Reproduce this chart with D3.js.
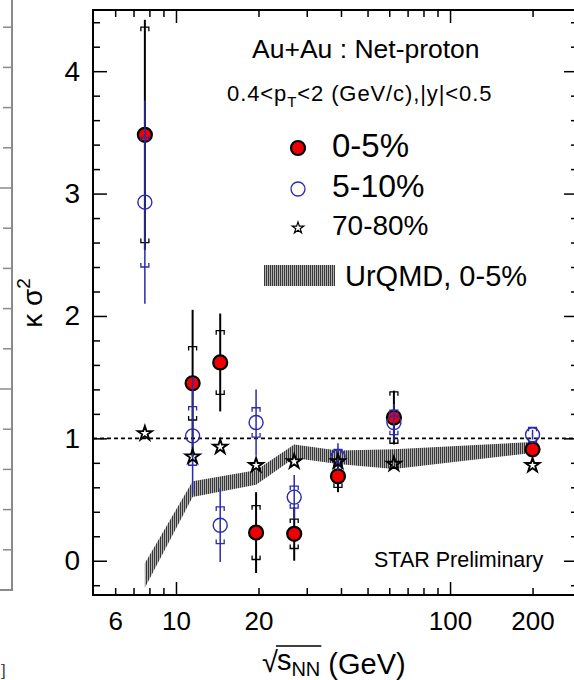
<!DOCTYPE html>
<html>
<head>
<meta charset="utf-8">
<script src="https://cdn.jsdelivr.net/npm/d3@7"></script>
<style>
  body { margin: 0; background: #fff; }
  svg { display: block; font-family: "Liberation Sans", Arial, Helvetica, sans-serif; }
</style>
</head>
<body>
<div id="chart"></div>
<script>
// Beam energies (GeV) and kappa*sigma^2 of net-proton
var energies = [7.7, 11.5, 14.5, 19.6, 27, 39, 62.4, 200];

// 0-5% central
var kappa05 = [3.48, 1.45, 1.62, 0.23, 0.22, 0.69, 1.17, 0.91];
var stat05  = [0.94, 0.60, 0.40, 0.33, 0.22, 0.13, 0.22, 0.04];
var sys05   = [0.88, 0.30, 0.26, 0.22, 0.12, 0.09, 0.21, 0.05];

// 5-10% central
var kappa510 = [2.93, 1.02, 0.29, 1.13, 0.52, 0.85, 1.13, 1.03];
var stat510  = [0.83, 0.48, 0.30, 0.27, 0.18, 0.11, 0.15, 0.04];
var sys510   = [0.53, 0.24, 0.15, 0.12, 0.09, 0.06, 0.10, 0.06];

// 70-80% peripheral
var kappa7080 = [1.04, 0.85, 0.93, 0.78, 0.81, 0.81, 0.79, 0.78];

// UrQMD 0-5% band
var urqmdEnergies = [7.7, 11.5, 19.6, 27, 39, 62.4, 200];
var urqmdLow  = [-0.22, 0.52, 0.62, 0.84, 0.79, 0.75, 0.88];
var urqmdHigh = [-0.02, 0.65, 0.74, 0.95, 0.90, 0.91, 0.97];

// Axis ticks
var xLabelTicks = [6, 10, 20, 100, 200];
var xMajorTicks = [10, 100];
var xMinorTicks = [6, 7, 8, 9, 20, 30, 40, 50, 60, 70, 80, 90, 200];
var yMajorTicks = [0, 1, 2, 3, 4];
var yMinorTicks = [-0.2, 0.2, 0.4, 0.6, 0.8, 1.2, 1.4, 1.6, 1.8, 2.2, 2.4, 2.6, 2.8,
                   3.2, 3.4, 3.6, 3.8, 4.2, 4.4];

var W = 574, H = 680;
var pad = {left: 93, right: 578, top: 10, bottom: 595};

var svg = d3.select("#chart").append("svg")
    .attr("width", W)
    .attr("height", H);

var blue = "#2a2ab0";

// Scales
var x = d3.scaleLog().domain([4.98, 293]).range([pad.left, pad.right]);
var y = d3.scaleLinear().domain([-0.28, 4.5]).range([pad.bottom, pad.top]);

// Hatched pattern for the UrQMD band
var defs = svg.append("defs");
var pat = defs.append("pattern")
    .attr("id", "hatch")
    .attr("patternUnits", "userSpaceOnUse")
    .attr("width", 2).attr("height", 4);
pat.append("rect").attr("width", 2).attr("height", 4).attr("fill", "#b0b0b0");
pat.append("rect").attr("width", 1).attr("height", 4).attr("fill", "#383838");

// Remnant of neighbouring panel on the left
var ghost = svg.append("g").attr("stroke", "#8a8a8a").attr("stroke-width", 2);
ghost.append("path").attr("fill", "none").attr("d", "M12,0V590H0");
d3.range(1, 15).forEach(function(i) {
    var ty = 590 - i * 40.2;
    if (ty < 0) return;
    ghost.append("line")
        .attr("x1", i % 5 === 0 ? 0 : 3).attr("x2", 12)
        .attr("y1", ty).attr("y2", ty)
        .attr("stroke-width", 1.5);
});
svg.append("text").attr("x", 1).attr("y", 676)
    .attr("font-size", 17).attr("fill", "#444").text("]");

var plot = svg.append("g");

// UrQMD band
var band = d3.area()
    .x(function(d, i) { return x(urqmdEnergies[i]); })
    .y0(function(d, i) { return y(urqmdLow[i]); })
    .y1(function(d, i) { return y(urqmdHigh[i]); });
plot.append("path")
    .attr("d", band(urqmdEnergies))
    .attr("fill", "url(#hatch)");

// Dashed unity line
plot.append("line")
    .attr("x1", pad.left).attr("x2", pad.right)
    .attr("y1", y(1)).attr("y2", y(1))
    .attr("stroke", "#000").attr("stroke-width", 1.6)
    .attr("stroke-dasharray", "4,3");

// Systematic bracket path
function sysPath(e, v, s) {
    var cx = x(e), yu = y(v + s), yl = y(v - s);
    return "M" + (cx - 4) + "," + (yu + 4) + "V" + yu + "H" + (cx + 4) + "V" + (yu + 4) +
           "M" + (cx - 4) + "," + (yl - 4) + "V" + yl + "H" + (cx + 4) + "V" + (yl - 4);
}

// Error bars for a series
function drawErrors(vals, stat, sys, color, sw) {
    var g = plot.append("g").attr("stroke", color).attr("fill", "none");
    g.selectAll("line.stat").data(energies).enter().append("line")
        .attr("class", "stat")
        .attr("x1", function(d) { return x(d); })
        .attr("x2", function(d) { return x(d); })
        .attr("y1", function(d, i) { return y(vals[i] + stat[i]); })
        .attr("y2", function(d, i) { return y(vals[i] - stat[i]); })
        .attr("stroke-width", sw);
    g.selectAll("path.sys").data(energies).enter().append("path")
        .attr("class", "sys")
        .attr("d", function(d, i) { return sysPath(d, vals[i], sys[i]); })
        .attr("stroke-width", 1.3);
}

// 0-5%
drawErrors(kappa05, stat05, sys05, "#000", 2);
plot.selectAll("circle.c05").data(energies).enter().append("circle")
    .attr("class", "c05")
    .attr("cx", function(d) { return x(d); })
    .attr("cy", function(d, i) { return y(kappa05[i]); })
    .attr("r", 7)
    .attr("fill", "#f00000")
    .attr("stroke", "#000").attr("stroke-width", 2.2);

// 5-10%
drawErrors(kappa510, stat510, sys510, blue, 1.5);
plot.selectAll("circle.c510").data(energies).enter().append("circle")
    .attr("class", "c510")
    .attr("cx", function(d) { return x(d); })
    .attr("cy", function(d, i) { return y(kappa510[i]); })
    .attr("r", 7)
    .attr("fill", "none")
    .attr("stroke", blue).attr("stroke-width", 1.4);

// 70-80%
var star = d3.symbol().type(d3.symbolStar).size(62);
plot.selectAll("path.s7080").data(energies).enter().append("path")
    .attr("class", "s7080")
    .attr("d", star)
    .attr("transform", function(d, i) { return "translate(" + x(d) + "," + y(kappa7080[i]) + ")"; })
    .attr("fill", "none")
    .attr("stroke", "#000").attr("stroke-width", 1.9);

// Frame
svg.append("rect")
    .attr("x", pad.left).attr("y", pad.top)
    .attr("width", pad.right - pad.left).attr("height", pad.bottom - pad.top)
    .attr("fill", "none").attr("stroke", "#000").attr("stroke-width", 2);

function styleAxis(g) {
    g.select(".domain").remove();
    g.selectAll(".tick line").attr("stroke", "#000").attr("stroke-width", 1.5);
}

// Y axes (ticks inside)
svg.append("g").attr("transform", "translate(" + pad.left + ",0)")
    .call(d3.axisLeft(y).tickValues(yMajorTicks).tickSize(-14).tickPadding(13).tickFormat(d3.format("d")))
    .call(styleAxis)
    .selectAll("text").attr("font-size", 28).attr("fill", "#000")
    .attr("font-family", "Liberation Sans, Arial, sans-serif");
svg.append("g").attr("transform", "translate(" + pad.left + ",0)")
    .call(d3.axisLeft(y).tickValues(yMinorTicks).tickSize(-7).tickFormat(""))
    .call(styleAxis);
svg.append("g").attr("transform", "translate(" + pad.right + ",0)")
    .call(d3.axisRight(y).tickValues(yMajorTicks).tickSize(-14).tickFormat(""))
    .call(styleAxis);
svg.append("g").attr("transform", "translate(" + pad.right + ",0)")
    .call(d3.axisRight(y).tickValues(yMinorTicks).tickSize(-7).tickFormat(""))
    .call(styleAxis);

// X axes (ticks inside)
svg.append("g").attr("transform", "translate(0," + pad.bottom + ")")
    .call(d3.axisBottom(x).tickValues(xMajorTicks).tickSize(-13).tickFormat(""))
    .call(styleAxis);
svg.append("g").attr("transform", "translate(0," + pad.bottom + ")")
    .call(d3.axisBottom(x).tickValues(xMinorTicks).tickSize(-7).tickFormat(""))
    .call(styleAxis);
svg.append("g").attr("transform", "translate(0," + pad.top + ")")
    .call(d3.axisTop(x).tickValues(xMajorTicks).tickSize(-13).tickFormat(""))
    .call(styleAxis);
svg.append("g").attr("transform", "translate(0," + pad.top + ")")
    .call(d3.axisTop(x).tickValues(xMinorTicks).tickSize(-7).tickFormat(""))
    .call(styleAxis);
svg.append("g").attr("transform", "translate(0," + pad.bottom + ")")
    .call(d3.axisBottom(x).tickValues(xLabelTicks).tickSize(0).tickPadding(17).tickFormat(d3.format("d")))
    .call(styleAxis)
    .selectAll("text").attr("font-size", 26).attr("fill", "#000")
    .attr("font-family", "Liberation Sans, Arial, sans-serif");

// Y title: kappa sigma^2
var yt = svg.append("text")
    .attr("transform", "translate(42,303) rotate(-90)")
    .attr("text-anchor", "middle")
    .attr("font-size", 28);
yt.append("tspan").text("\u03BA \u03C3");
yt.append("tspan").attr("font-size", 19).attr("dy", -12).text("2");

// X title: sqrt(s_NN) (GeV)
var xt = svg.append("g").attr("font-size", 29);
var rad = xt.append("text").attr("x", 262).attr("y", 672).text("\u221A");
var rx = 262 + rad.node().getComputedTextLength() - 1;
var sT = xt.append("text").attr("x", rx).attr("y", 670).text("s");
var nx = rx + sT.node().getComputedTextLength();
var nnT = xt.append("text").attr("x", nx).attr("y", 676).attr("font-size", 20).text("NN");
var ex = nx + nnT.node().getComputedTextLength();
xt.append("line").attr("x1", rx - 1).attr("x2", ex + 1).attr("y1", 646).attr("y2", 646)
    .attr("stroke", "#000").attr("stroke-width", 1.3);
xt.append("text").attr("x", ex + 8).attr("y", 674).text("(GeV)");

// Legend
var lg = svg.append("g");
lg.append("text").attr("x", 252).attr("y", 58).attr("font-size", 26.5).text("Au+Au : Net-proton");
var l2 = lg.append("text").attr("x", 227).attr("y", 101).attr("font-size", 22)
    .attr("letter-spacing", 0.9);
l2.append("tspan").text("0.4<p");
l2.append("tspan").attr("font-size", 15).attr("dy", 6).text("T");
l2.append("tspan").attr("dy", -6).text("<2 (GeV/c),|y|<0.5");

lg.append("circle").attr("cx", 298).attr("cy", 148).attr("r", 7)
    .attr("fill", "#f00000").attr("stroke", "#000").attr("stroke-width", 2.2);
lg.append("text").attr("x", 332).attr("y", 157).attr("font-size", 33).text("0-5%");
lg.append("circle").attr("cx", 298).attr("cy", 189).attr("r", 7)
    .attr("fill", "none").attr("stroke", blue).attr("stroke-width", 1.3);
lg.append("text").attr("x", 332).attr("y", 197).attr("font-size", 32).text("5-10%");
lg.append("path").attr("d", d3.symbol().type(d3.symbolStar).size(42))
    .attr("transform", "translate(298,228)")
    .attr("fill", "none").attr("stroke", "#000").attr("stroke-width", 1.2);
lg.append("text").attr("x", 332).attr("y", 235).attr("font-size", 28).text("70-80%");
lg.append("rect").attr("x", 264).attr("y", 265).attr("width", 71).attr("height", 21)
    .attr("fill", "url(#hatch)");
lg.append("text").attr("x", 345).attr("y", 286).attr("font-size", 29).text("UrQMD, 0-5%");

svg.append("text").attr("x", 374).attr("y", 567).attr("font-size", 21.5).text("STAR Preliminary");
</script>
</body>
</html>
